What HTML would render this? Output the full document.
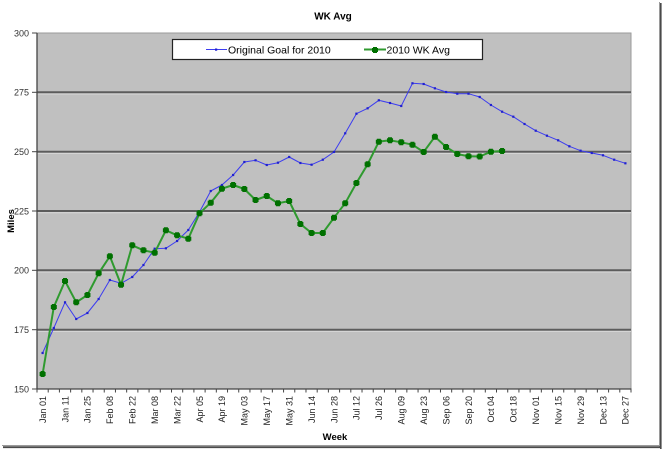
<!DOCTYPE html>
<html><head><meta charset="utf-8"><style>
html,body{margin:0;padding:0;background:#fff;}
svg{display:block;font-family:"Liberation Sans",Arial,sans-serif;}
</style></head><body>
<svg width="662" height="451" viewBox="0 0 662 451" xmlns="http://www.w3.org/2000/svg">
<rect x="0" y="0" width="662" height="451" fill="#fff"/>
<!-- frame shadow -->
<line x1="659.5" y1="2" x2="659.5" y2="447" stroke="#9a9a9a" stroke-width="1"/>
<line x1="660.8" y1="3" x2="660.8" y2="449" stroke="#4a4a4a" stroke-width="1.6"/>
<line x1="2" y1="445.5" x2="660" y2="445.5" stroke="#9a9a9a" stroke-width="1"/>
<line x1="3" y1="447.2" x2="661" y2="447.2" stroke="#4a4a4a" stroke-width="1.8"/>

<!-- plot area -->
<rect x="37" y="33" width="594" height="356" fill="#c0c0c0" stroke="#9a9a9a" stroke-width="1"/>
<g stroke="#5c5c5c" stroke-width="2">
<line x1="37" y1="92.3" x2="631" y2="92.3"/>
<line x1="37" y1="151.7" x2="631" y2="151.7"/>
<line x1="37" y1="211" x2="631" y2="211"/>
<line x1="37" y1="270.3" x2="631" y2="270.3"/>
<line x1="37" y1="329.7" x2="631" y2="329.7"/>
</g>
<g stroke="#d8d8d8" stroke-width="1">
<line x1="37" y1="94" x2="631" y2="94"/>
<line x1="37" y1="153.4" x2="631" y2="153.4"/>
<line x1="37" y1="212.7" x2="631" y2="212.7"/>
<line x1="37" y1="272" x2="631" y2="272"/>
<line x1="37" y1="331.4" x2="631" y2="331.4"/>
</g>
<!-- axes -->
<line x1="37" y1="33" x2="37" y2="389.5" stroke="#444" stroke-width="1.3"/>
<line x1="36.5" y1="389" x2="631.5" y2="389" stroke="#444" stroke-width="1.3"/>
<g stroke="#444" stroke-width="1">
<line x1="32" y1="33" x2="37" y2="33"/>
<line x1="32" y1="92.3" x2="37" y2="92.3"/>
<line x1="32" y1="151.7" x2="37" y2="151.7"/>
<line x1="32" y1="211" x2="37" y2="211"/>
<line x1="32" y1="270.3" x2="37" y2="270.3"/>
<line x1="32" y1="329.7" x2="37" y2="329.7"/>
<line x1="32" y1="389" x2="37" y2="389"/>
</g>
<g id="xticks" stroke="#444" stroke-width="1"></g>

<!-- y labels -->
<g font-size="9" fill="#333" text-anchor="end">
<text x="29" y="36.3">300</text>
<text x="29" y="95.6">275</text>
<text x="29" y="155">250</text>
<text x="29" y="214.3">225</text>
<text x="29" y="273.6">200</text>
<text x="29" y="333">175</text>
<text x="29" y="392.3">150</text>
</g>

<!-- titles -->
<text x="333" y="19.5" font-size="10" font-weight="bold" text-anchor="middle" fill="#000">WK Avg</text>
<text x="335" y="440" font-size="9.5" font-weight="bold" text-anchor="middle" fill="#000">Week</text>
<text transform="translate(14,221) rotate(-90)" font-size="9.5" font-weight="bold" text-anchor="middle" fill="#000">Miles</text>

<!-- x labels -->
<g id="xlabels" font-size="9" fill="#222" text-anchor="end"></g>

<!-- series -->
<g id="series"></g>

<!-- legend -->
<rect x="172.5" y="39.5" width="310" height="20" fill="#fff" stroke="#222" stroke-width="1.2"/>
<line x1="206" y1="49.5" x2="227" y2="49.5" stroke="#3c3cf0" stroke-width="1"/>
<rect x="215" y="48.5" width="2.2" height="2.2" fill="#2020d0"/>
<text x="228" y="53.5" font-size="10.5" fill="#000">Original Goal for 2010</text>
<line x1="364" y1="49.5" x2="386" y2="49.5" stroke="#2f9a2f" stroke-width="2"/>
<path d="M373,47 h4 v1 h1 v4 h-1 v1 h-4 v-1 h-1 v-4 h1 z" fill="#007000"/>
<text x="386.5" y="53.5" font-size="10.5" fill="#000">2010 WK Avg</text>
</svg>
<script>
(function(){
var NS="http://www.w3.org/2000/svg";
var svg=document.querySelector("svg");
function el(tag,attrs,parent){var e=document.createElementNS(NS,tag);for(var k in attrs)e.setAttribute(k,attrs[k]);parent.appendChild(e);return e;}
var step=594/53;
var ticks=document.getElementById("xticks");
for(var k=0;k<=53;k++){var x=37+k*step;el("line",{x1:x,y1:389,x2:x,y2:392.5},ticks);}
var labels=["Jan 01","Jan 11","Jan 25","Feb 08","Feb 22","Mar 08","Mar 22","Apr 05","Apr 19","May 03","May 17","May 31","Jun 14","Jun 28","Jul 12","Jul 26","Aug 09","Aug 23","Sep 06","Sep 20","Oct 04","Oct 18","Nov 01","Nov 15","Nov 29","Dec 13","Dec 27"];
var xl=document.getElementById("xlabels");
for(var j=0;j<labels.length;j++){var i=j*2;var cx=37+(i+0.5)*step+3.3;var t=el("text",{transform:"translate("+cx.toFixed(2)+",396) rotate(-90)"},xl);t.textContent=labels[j];}
var blue=[353,328,302.3,319,313,299,280,283.3,277,265,248.7,248.3,241,230,212,191,185,175,162,160.3,165,162.7,157,163,164.7,159.7,152,133.3,113.7,108.3,100.3,103,106,83.3,84,88.3,92,93.7,93.7,97,105,111.7,116.7,124,130.7,135.7,140.3,146.3,150.7,153,155.3,159.7,163.3];
var green=[374,307,281,302.3,295,273.3,256.3,284.7,245.3,250.3,252.7,230.3,235.3,238.7,213.3,202.7,188.7,185,189,200,196,203.3,201,224,233,233,217.7,203.2,183,164.3,141.7,140.3,142.3,144.7,152,136.7,147,154,156.3,156.5,151.7,151];
var s=document.getElementById("series");
function pts(a){return a.map(function(y,i){return (37+(i+0.5)*step).toFixed(2)+","+y;}).join(" ");}
el("polyline",{points:pts(blue),fill:"none",stroke:"#3c3cf0","stroke-width":"1","stroke-linejoin":"round"},s);
blue.forEach(function(y,i){var x=37+(i+0.5)*step;el("rect",{x:(x-1.1).toFixed(2),y:(y-1.1).toFixed(2),width:2.2,height:2.2,fill:"#2020d0"},s);});
el("polyline",{points:pts(green),fill:"none",stroke:"#2f9a2f","stroke-width":"2","stroke-linejoin":"round"},s);
green.forEach(function(y,i){var x=37+(i+0.5)*step;
var d="M"+(x-2)+","+(y-3)+" h4 v1 h1 v4 h-1 v1 h-4 v-1 h-1 v-4 h1 z";
el("path",{d:d,fill:"#007000"},s);});
})();
</script>
</body></html>
